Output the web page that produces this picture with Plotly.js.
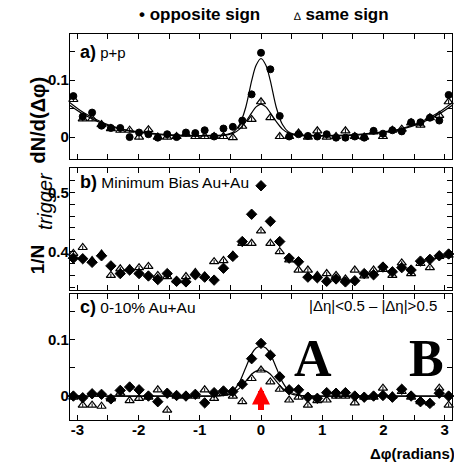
<!DOCTYPE html>
<html><head><meta charset="utf-8">
<script src="https://cdn.plot.ly/plotly-3.0.1.min.js"></script>
<style>html,body{margin:0;padding:0;background:#fff}#chart{width:454px;height:465px}</style>
</head><body><div id="chart"></div>
<script>
// bin centres (radians)
const dphi = [-3.065,-2.912,-2.759,-2.605,-2.452,-2.299,-2.146,-1.992,-1.839,-1.686,-1.532,-1.379,-1.226,-1.073,-0.920,-0.766,-0.613,-0.460,-0.306,-0.153,0,
  0.153,0.306,0.460,0.613,0.766,0.920,1.073,1.226,1.379,1.532,1.686,1.839,1.992,2.146,2.299,2.452,2.605,2.759,2.912,3.065];

// panel a) p+p
const oppA = [0.072,0.036,0.043,0.020,0.016,0.016,0.000,0.008,0.005,-0.001,0.005,0.000,0.008,0.007,0.012,0.001,0.015,0.018,0.029,0.075,0.148,
  0.119,0.037,0.001,0.005,0.002,0.001,0.005,-0.001,-0.001,0.001,-0.001,0.011,0.006,0.012,0.010,0.026,0.026,0.034,0.029,0.074];
const sameA = [0.066,0.032,0.032,0.022,0.015,0.012,0.012,0.000,0.013,0.000,0.000,0.001,0.005,0.001,0.001,0.001,0.001,-0.001,0.019,0.031,0.062,
  0.034,0.001,0.001,0.007,0.000,0.011,0.000,0.001,0.011,0.001,0.000,0.009,0.001,0.012,0.014,0.025,0.021,0.034,0.038,0.062];

// panel b) minimum bias Au+Au
const oppB = [0.389,0.388,0.382,0.393,0.376,0.363,0.369,0.363,0.359,0.353,0.363,0.350,0.349,0.361,0.357,0.352,0.372,0.392,0.417,0.463,0.511,
  0.451,0.417,0.389,0.383,0.357,0.356,0.350,0.354,0.349,0.351,0.363,0.361,0.374,0.366,0.373,0.369,0.384,0.387,0.393,0.396];
const sameB = [0.397,0.407,0.385,0.396,0.360,0.371,0.371,0.373,0.375,0.360,0.358,0.351,0.358,0.365,0.359,0.383,0.385,0.394,0.414,0.414,0.435,
  0.414,0.400,0.386,0.369,0.369,0.360,0.363,0.360,0.354,0.369,0.359,0.369,0.370,0.360,0.381,0.363,0.380,0.373,0.392,0.394];

// panel c) 0-10% Au+Au
const oppC = [0.000,-0.003,0.004,0.003,-0.005,0.010,0.016,0.011,0.000,-0.010,0.005,0.001,0.000,0.003,-0.012,0.006,0.009,0.008,0.021,0.066,0.093,
  0.072,0.034,0.011,0.011,-0.002,-0.004,0.006,0.005,0.006,0.000,-0.002,0.000,0.001,-0.002,0.012,0.000,-0.010,-0.013,0.005,0.000];
const sameC = [-0.002,-0.016,-0.016,-0.018,-0.005,0.005,-0.008,-0.004,-0.002,0.011,-0.025,0.000,0.000,0.000,0.011,-0.004,0.005,0.000,-0.010,0.031,0.046,
  0.025,0.012,-0.007,-0.002,-0.016,-0.008,-0.007,0.000,0.000,-0.012,-0.002,-0.002,0.014,0.000,0.008,-0.002,-0.010,-0.012,0.014,-0.016];

// fit curves
const fitX = [-3.14,-2.9,-2.6,-2.3,-2.0,-1.6,-1.2,-0.8,-0.6,-0.45,-0.35,-0.25,-0.15,-0.08,0,0.08,0.15,0.25,0.35,0.45,0.6,0.8,1.2,1.6,2.0,2.3,2.6,2.9,3.14];
const fitOppA = [0.062,0.043,0.026,0.015,0.009,0.005,0.003,0.003,0.004,0.009,0.022,0.052,0.100,0.126,0.138,0.126,0.100,0.052,0.022,0.009,0.004,0.003,0.003,0.005,0.009,0.015,0.026,0.043,0.062];
const fitSameA = [0.057,0.040,0.024,0.014,0.008,0.004,0.002,0.002,0.003,0.007,0.014,0.027,0.043,0.053,0.058,0.053,0.043,0.027,0.014,0.007,0.003,0.002,0.002,0.004,0.008,0.014,0.024,0.040,0.057];
const fitOppC = [0,0,0,0,0,0,0,0,0.002,0.010,0.025,0.050,0.075,0.085,0.088,0.085,0.075,0.050,0.025,0.010,0.002,0,0,0,0,0,0,0,0];
const fitSameC = [0,0,0,0,0,0,0,0,0.001,0.006,0.014,0.026,0.039,0.044,0.046,0.044,0.039,0.026,0.014,0.006,0.001,0,0,0,0,0,0,0,0];

const panelLabels = ['p+p','Minimum Bias Au+Au','0-10% Au+Au'];
const yTitleParts = ['1/N','trigger','dN/d(Δφ)'];

const NARROW = 'Liberation Sans Narrow, Arial Narrow, Liberation Sans, Arial, sans-serif';
const err = v => ({type:'constant', value:v, thickness:1, width:0, color:'#000'});
function pts(x, y, xa, ya, sym, size, ev){
  const open = sym.indexOf('open') >= 0;
  return {x, y, xaxis:xa, yaxis:ya, type:'scatter', mode:'markers', showlegend:false,
    marker:{symbol:sym, size, color:'#000', line:{color:'#000', width:open?1.2:1}},
    error_y: err(ev), cliponaxis:false};
}
function fit(y, xa, ya){
  return {x:fitX, y, xaxis:xa, yaxis:ya, type:'scatter', mode:'lines', showlegend:false,
    line:{color:'#000', width:1.2, shape:'spline', smoothing:0.9}};
}
const traces = [
  fit(fitOppA,'x','y'), fit(fitSameA,'x','y'),
  pts(dphi, sameA,'x','y','triangle-up-open',8,0.004),
  pts(dphi, oppA,'x','y','circle',7,0.004),
  pts(dphi, sameB,'x2','y2','triangle-up-open',8,0.003),
  pts(dphi, oppB,'x2','y2','diamond',8,0.003),
  fit(fitOppC,'x3','y3'), fit(fitSameC,'x3','y3'),
  pts(dphi, sameC,'x3','y3','triangle-up-open',8,0.003),
  pts(dphi, oppC,'x3','y3','diamond',8,0.003)
];

const tickFont = {family:NARROW, size:15, color:'#000', weight:700};
function xax(showLabels, anchor){
  return {domain:[0,1], anchor, range:[-3.12,3.12], showline:true, linecolor:'#000', linewidth:1.2, mirror:'ticks',
    ticks:'inside', ticklen:5, tickcolor:'#000', showgrid:false, zeroline:false,
    tickvals:[-3,-2.5,-2,-1.5,-1,-0.5,0,0.5,1,1.5,2,2.5,3],
    ticktext: showLabels ? ['-3','','-2','','-1','','0','','1','','2','','3'] : Array(13).fill(''),
    showticklabels:showLabels, tickfont:tickFont, ticklabelstandoff:-4};
}
function yax(domain, range, vals, text, anchor){
  return {domain, range, anchor, showline:true, linecolor:'#000', linewidth:1.2, mirror:'ticks', ticks:'inside', ticklen:5,
    tickcolor:'#000', tickvals:vals, ticktext:text, showgrid:false, zeroline:false, tickfont:tickFont, ticklabelstandoff:-3};
}
const SANS = 'Liberation Sans, Arial, sans-serif';
const layout = {
  width:454, height:465, margin:{l:70, r:2, t:34, b:45}, paper_bgcolor:'#fff', plot_bgcolor:'#fff',
  xaxis: xax(false,'y'), xaxis2: xax(false,'y2'), xaxis3: xax(true,'y3'),
  yaxis: yax([0.676,1],[-0.0386,0.181],[0,0.05,0.1,0.15],['0','','0.1',''],'x'),
  yaxis2: yax([0.337,0.653],[0.3355,0.541],[0.34,0.36,0.38,0.4,0.42,0.44,0.46,0.48,0.5,0.52,0.54],['','','','0.4','','','','','0.5','',''],'x2'),
  yaxis3: yax([0,0.326],[-0.0423,0.18],[0,0.05,0.1,0.15],['0','','0.1',''],'x3'),
  annotations:[
    {xref:'paper', yref:'paper', x:0.02, y:0.985, xanchor:'left', yanchor:'top', showarrow:false,
     text:'<b><span style="font-size:18px">a)</span></b> '+panelLabels[0], font:{family:NARROW, size:15, color:'#000'}},
    {xref:'paper', yref:'paper', x:0.02, y:0.648, xanchor:'left', yanchor:'top', showarrow:false,
     text:'<b><span style="font-size:18px">b)</span></b> '+panelLabels[1], font:{family:NARROW, size:15.5, color:'#000'}},
    {xref:'paper', yref:'paper', x:0.02, y:0.323, xanchor:'left', yanchor:'top', showarrow:false,
     text:'<b><span style="font-size:18px">c)</span></b> '+panelLabels[2], font:{family:NARROW, size:15.5, color:'#000'}},
    {xref:'paper', yref:'paper', x:0.965, y:0.323, xanchor:'right', yanchor:'top', showarrow:false,
     text:'|Δη|<0.5 – |Δη|>0.5', font:{family:NARROW, size:15, color:'#000'}},
    {xref:'x3', yref:'y3', x:0.85, y:0.067, xanchor:'center', yanchor:'middle', showarrow:false,
     text:'<b>A</b>', font:{family:'Liberation Serif, Times New Roman, serif', size:52, color:'#000'}},
    {xref:'x3', yref:'y3', x:2.7, y:0.067, xanchor:'center', yanchor:'middle', showarrow:false,
     text:'<b>B</b>', font:{family:'Liberation Serif, Times New Roman, serif', size:52, color:'#000'}},
    {xref:'x3', yref:'y3', x:0, y:0.017, axref:'x3', ayref:'y3', ax:0, ay:-0.0423, showarrow:true,
     arrowhead:2, arrowsize:0.6, arrowwidth:6, arrowcolor:'#ff0000', text:' '},
    {xref:'paper', yref:'paper', x:0.175, y:1.05, xanchor:'left', yanchor:'middle', showarrow:false,
     text:'<b>• opposite sign</b>', font:{family:NARROW, size:17, color:'#000'}},
    {xref:'paper', yref:'paper', x:0.58, y:1.05, xanchor:'left', yanchor:'middle', showarrow:false,
     text:'<span style="font-size:11px">∆</span> <b>same sign</b>', font:{family:NARROW, size:17, color:'#000'}},
    // y-axis title in three pieces (1/N, subscript "trigger", dN/d(Δφ))
    {xref:'paper', yref:'paper', x:-0.085, y:0.415, xanchor:'center', yanchor:'middle', showarrow:false, textangle:-90,
     text:'<b>'+yTitleParts[0]+'</b>', font:{family:SANS, size:19, color:'#000'}},
    {xref:'paper', yref:'paper', x:-0.066, y:0.567, xanchor:'center', yanchor:'middle', showarrow:false, textangle:-90,
     text:'<i>'+yTitleParts[1]+'</i>', font:{family:SANS, size:20, color:'#000'}},
    {xref:'paper', yref:'paper', x:-0.085, y:0.775, xanchor:'center', yanchor:'middle', showarrow:false, textangle:-90,
     text:'<b>'+yTitleParts[2]+'</b>', font:{family:SANS, size:20, color:'#000'}},
    {xref:'paper', yref:'paper', x:1.012, y:-0.06, xanchor:'right', yanchor:'top', showarrow:false,
     text:'<b>Δφ(radians)</b>', font:{family:NARROW, size:15, color:'#000'}}
  ]
};
Plotly.newPlot('chart', traces, layout, {displayModeBar:false, staticPlot:true});
</script></body></html>
